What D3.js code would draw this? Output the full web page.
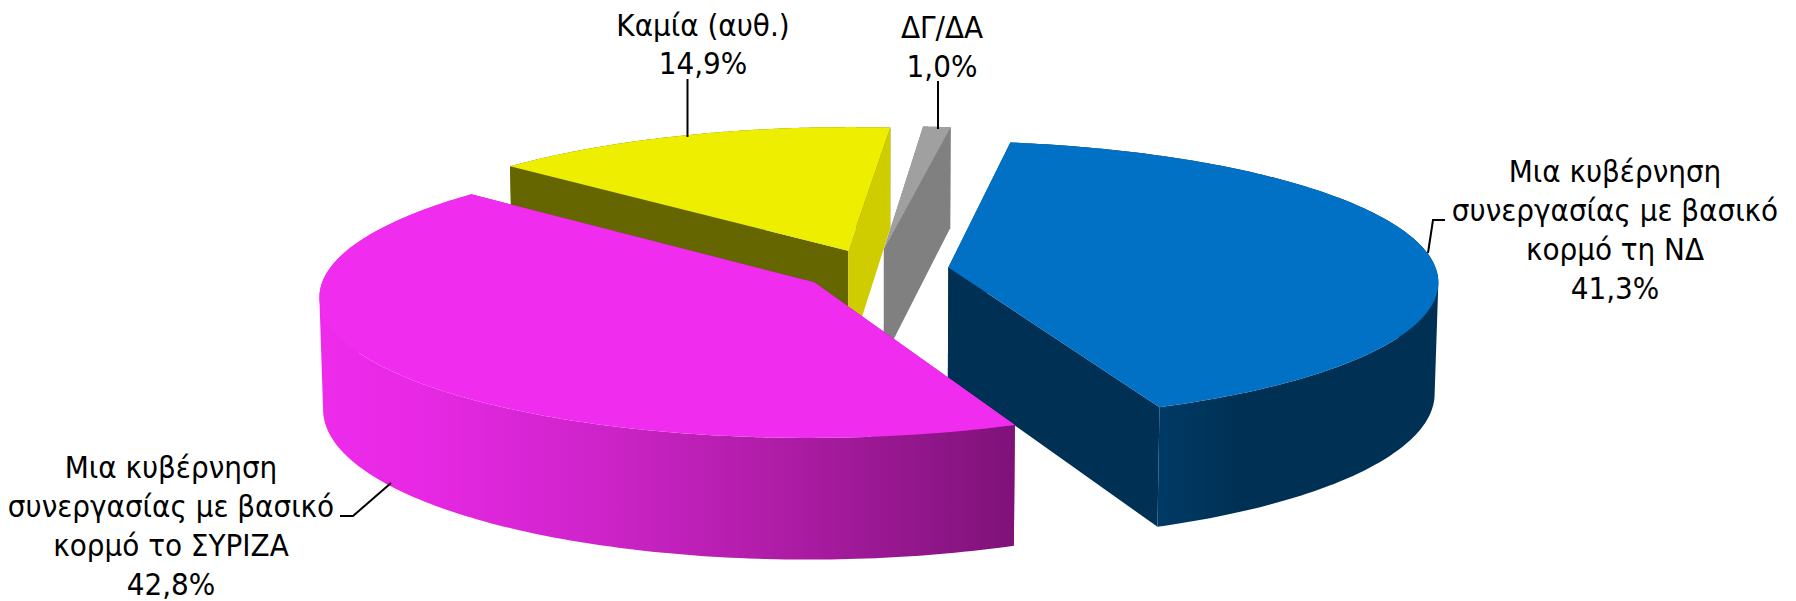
<!DOCTYPE html>
<html><head><meta charset="utf-8">
<script src="https://cdn.jsdelivr.net/npm/d3@7/dist/d3.min.js"></script>
<style>html,body{margin:0;padding:0;background:#fff;overflow:hidden}</style>
</head><body><svg id="c" width="1796" height="601"></svg>
<script>
const categories = ["Mia ND","Mia SYRIZA","Kamia","DG/DA"];
const values = [41.3, 42.8, 14.9, 1.0];
const labelLines = [
  ["Μια κυβέρνηση","συνεργασίας με βασικό","κορμό τη ΝΔ","41,3%"],
  ["Μια κυβέρνηση","συνεργασίας με βασικό","κορμό το ΣΥΡΙΖΑ","42,8%"],
  ["Καμία (αυθ.)","14,9%"],
  ["ΔΓ/ΔΑ","1,0%"]
];
const topColors = ["#0071C4","#F02CEE","#EEEE00","#A0A0A0"];
const faceColors = ["#003154","#A81CA6","#666600","#808080"];
const endFaceColors = ["#003154","#A81CA6","#CFCD00","#808080"];
const labelAnchors = [1615,171,703,942];
const labelTop = [182,478,36,37.5];
const labelStep = [39,39,37.5,39];
const drawOrder = [2,3,0,1];

const cx=875, cy=270, R=488, explode=74, tilt=16.5*Math.PI/180, D=5000, depth=116;
const startDeg=8.8;

const svg=d3.select("#c");
const defs=svg.append("defs");
const pieGen=d3.pie().sort(null).startAngle(startDeg*Math.PI/180).endAngle((startDeg+360)*Math.PI/180);
const arcs=pieGen(values);

function project(X,Y,Z){
  const yy=Y*Math.sin(tilt)+Z*Math.cos(tilt);
  const zz=Y*Math.cos(tilt)-Z*Math.sin(tilt);
  const s=D/(D+zz);
  return [cx+X*s, cy-yy*s];
}
const line=d3.line();
function slice(d,i){
  const mid=(d.startAngle+d.endAngle)/2;
  const ox=explode*Math.sin(mid), oy=explode*Math.cos(mid);
  const rim=(a,z)=>project(ox+R*Math.sin(a),oy+R*Math.cos(a),z);
  const apex=z=>project(ox,oy,z);
  const angs=d3.range(0,1.0001,1/160).map(t=>d.startAngle+t*(d.endAngle-d.startAngle));
  const g=svg.append("g");
  const fill=i===0?"url(#gb)":i===1?"url(#gm)":faceColors[i];
  // the rim is one quad per step, all wound the same way, so the silhouette never cancels
  const quads=pred=>d3.pairs(angs).filter(p=>pred((p[0]+p[1])/2)).map(([a,b])=>{
    const q=[rim(a,0),rim(b,0),rim(b,-depth),rim(a,-depth)];
    if(d3.polygonArea(q)<0) q.reverse();
    return line(q)+"Z";
  }).join("");
  g.append("path").attr("d",quads(a=>Math.cos(a)>=0)).attr("fill",fill);
  g.append("path").attr("d",line([apex(0),rim(d.startAngle,0),rim(d.startAngle,-depth),apex(-depth)])+"Z").attr("fill",faceColors[i]);
  g.append("path").attr("d",line([apex(0),rim(d.endAngle,0),rim(d.endAngle,-depth),apex(-depth)])+"Z").attr("fill",endFaceColors[i]);
  g.append("path").attr("d",quads(a=>Math.cos(a)<0)).attr("fill",fill);
  const top=[apex(0)].concat(angs.map(a=>rim(a,0)));
  g.append("path").attr("d",line(top)+"Z").attr("fill",topColors[i]);
}
const mk=(id,x1,x2,stops)=>{const g=defs.append("linearGradient").attr("id",id).attr("gradientUnits","userSpaceOnUse").attr("x1",x1).attr("x2",x2).attr("y1",0).attr("y2",0);
  stops.forEach(s=>g.append("stop").attr("offset",s[0]).attr("stop-color",s[1]));};
mk("gb",1157,1240,[[0,"#003A66"],[1,"#003154"]]);
mk("gm",318,1013,[[0,"#EE2BEB"],[0.14,"#E828E5"],[0.39,"#CF24CB"],[0.65,"#B01DA8"],[1,"#7F1279"]]);

drawOrder.forEach(i=>slice(arcs[i],i));

// leader lines
const leaders=[
  [[1445,220],[1433,220],[1428,253]],
  [[340,516],[353,516],[391,483]],
  [[687.5,79],[687.5,137]],
  [[938,81],[938,129]]
];
leaders.forEach(p=>svg.append("path").attr("d",line(p)).attr("fill","none").attr("stroke","#000").attr("stroke-width",2));

// labels
labelLines.forEach((ls,i)=>{
  ls.forEach((t,j)=>{
    svg.append("text").attr("x",labelAnchors[i]).attr("y",labelTop[i]+j*labelStep[i])
      .attr("text-anchor","middle").attr("font-family","'DejaVu Sans Condensed','DejaVu Sans',sans-serif")
      .attr("font-stretch","condensed").attr("font-size",31).attr("fill","#000").text(t);
  });
});
</script></body></html>
